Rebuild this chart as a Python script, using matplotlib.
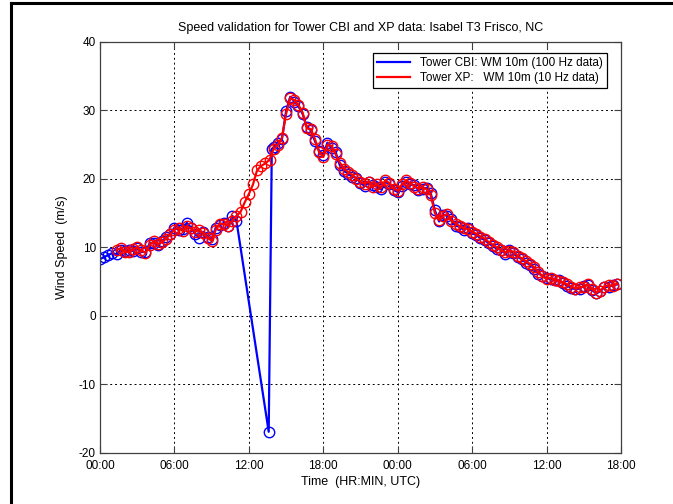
import numpy as np
import matplotlib
matplotlib.use("Agg")
import matplotlib.pyplot as plt
from matplotlib.lines import Line2D

plt.rcParams['font.family'] = ['Liberation Sans', 'DejaVu Sans']
plt.rcParams['font.size'] = 8.5
plt.rcParams['axes.unicode_minus'] = False

# time in hours from 00:00 of the first day
# Tower CBI, 100 Hz data (blue), before the drop-out
cbi_t1 = np.arange(0, 34) / 3.0
cbi_v1 = [8.3, 8.6, 8.9,
          9.2, 9.0, 9.6,
          9.5, 9.7, 9.5,
          9.9, 9.4, 9.3,
          10.6, 10.7, 10.3,
          10.9, 11.5, 12.0,
          12.9, 12.6, 12.7,
          13.6, 12.9, 12.0,
          11.4, 12.3, 11.6,
          11.2, 12.9, 13.3,
          13.6, 13.1, 14.6,
          13.9]
# drop-out spike
cbi_t2 = [13.6, 13.85]
cbi_v2 = [-16.9, 24.4]
# after the drop-out
cbi_t3 = 14 + np.arange(0, 84) / 3.0
cbi_v3 = [24.6, 25.3, 25.8,
          29.9, 32.0, 31.3,
          30.6, 29.5, 27.6,
          27.1, 25.5, 24.1,
          23.5, 25.3, 24.5,
          23.9, 22.0, 21.2,
          20.8, 20.3, 20.2,
          19.4, 19.0, 19.5,
          19.1, 18.9, 18.5,
          19.6, 19.2, 18.4,
          18.1, 19.0, 19.6,
          19.2, 19.1, 18.4,
          18.6, 18.7, 17.9,
          15.4, 13.8, 14.8,
          14.6, 14.1, 13.2,
          13.0, 12.6, 12.9,
          12.1, 11.8, 11.4,
          11.1, 10.6, 10.2,
          9.8, 9.7, 9.1,
          9.6, 9.2, 8.6,
          8.3, 7.8, 7.5,
          6.9, 6.2, 5.9,
          5.5, 5.4, 5.2,
          5.2, 4.8, 4.4,
          4.1, 3.9, 4.0,
          4.4, 4.5, 3.8,
          3.3, 3.6, 4.2,
          4.3, 4.5, 4.6]

# Tower XP, 10 Hz data (red)
xp_t = 1 + np.arange(1, 123) / 3.0
xp_v = [9.6, 9.9,
        9.4, 9.3, 9.8,
        10.0, 9.6, 9.2,
        10.4, 10.9, 10.5,
        10.8, 11.3, 11.9,
        12.6, 12.9, 12.4,
        13.1, 12.8, 12.3,
        12.6, 12.1, 11.4,
        11.0, 12.6, 13.5,
        13.4, 13.2, 13.9,
        14.6, 15.2, 16.6,
        17.8, 19.2, 21.3,
        21.9, 22.3, 22.8,
        24.4, 25.0, 26.0,
        29.5, 31.8, 31.5,
        30.8, 29.7, 27.4,
        27.3, 25.8, 23.9,
        23.2, 25.0, 24.8,
        23.6, 22.4, 21.5,
        21.0, 20.6, 20.0,
        19.6, 19.3, 19.6,
        18.9, 19.2, 18.8,
        19.8, 19.4, 18.6,
        18.3, 19.2, 19.8,
        19.4, 18.9, 18.6,
        18.8, 18.5, 17.6,
        15.0, 14.0, 14.6,
        14.9, 13.9, 13.5,
        13.1, 12.8, 12.7,
        12.3, 12.0, 11.6,
        11.3, 10.8, 10.4,
        10.0, 9.6, 9.3,
        9.5, 9.4, 8.8,
        8.4, 8.0, 7.6,
        7.1, 6.4, 5.8,
        5.4, 5.6, 5.3,
        5.1, 4.9, 4.6,
        4.3, 4.0, 4.2,
        4.3, 4.6, 4.0,
        3.4, 3.7, 4.3,
        4.5, 4.4, 4.7]

xticks = np.arange(0, 43, 6)
xticklabels = ['00:00', '06:00', '12:00', '18:00', '00:00', '06:00', '12:00', '18:00']
yticks = np.arange(-20, 41, 10)

cbi_t = np.concatenate([cbi_t1, cbi_t2, cbi_t3])
cbi_v = np.concatenate([cbi_v1, cbi_v2, cbi_v3])

fig = plt.figure(figsize=(6.73, 5.04), dpi=100)
ax = fig.add_axes([0.1486, 0.1012, 0.7741, 0.8155])

ax.plot(cbi_t, cbi_v, color='blue', lw=1.6, marker='o', ms=7.5,
        mfc='none', mec='blue', mew=1.0, label='Tower CBI: WM 10m (100 Hz data)')
ax.plot(xp_t, xp_v, color='red', lw=1.6, marker='o', ms=7.5,
        mfc='none', mec='red', mew=1.0, label='Tower XP:   WM 10m (10 Hz data)')

ax.set_xlim(0, 42)
ax.set_ylim(-20, 40)
ax.set_xticks(xticks)
ax.set_xticklabels(xticklabels)
ax.set_yticks(yticks)
ax.grid(True, color='black', linestyle=(0, (2, 3)), linewidth=0.7)
ax.tick_params(direction='in', top=True, right=True, length=5, width=0.8,
               color='#404040', labelsize=8.5)
ax.tick_params(axis='x', pad=5)
ax.tick_params(axis='y', pad=3)
for s in ax.spines.values():
    s.set_color('#404040')
    s.set_linewidth(0.9)

ax.set_title('Speed validation for Tower CBI and XP data: Isabel T3 Frisco, NC',
             fontsize=9, pad=8)
ax.set_xlabel('Time  (HR:MIN, UTC)', fontsize=9, labelpad=3)
ax.set_ylabel('Wind Speed  (m/s)', fontsize=9, labelpad=8)

h = [Line2D([0], [0], color='blue', lw=1.6), Line2D([0], [0], color='red', lw=1.6)]
leg = ax.legend(h, ['Tower CBI: WM 10m (100 Hz data)', 'Tower XP:   WM 10m (10 Hz data)'],
                loc='upper right', bbox_to_anchor=(0.974, 0.974), fontsize=8.5,
                fancybox=False, framealpha=1, edgecolor='black', borderpad=0.4,
                labelspacing=0.2, handlelength=2.8, borderaxespad=0)
leg.get_frame().set_linewidth(0.9)

# outer frame (left and top edges of the original window)
fig.add_artist(Line2D([0.0163, 0.0163], [0, 0.994], color='black', lw=2.2,
                      transform=fig.transFigure))
fig.add_artist(Line2D([0.0163, 1], [0.994, 0.994], color='black', lw=2.2,
                      transform=fig.transFigure))

fig.savefig('out.png', dpi=100)
